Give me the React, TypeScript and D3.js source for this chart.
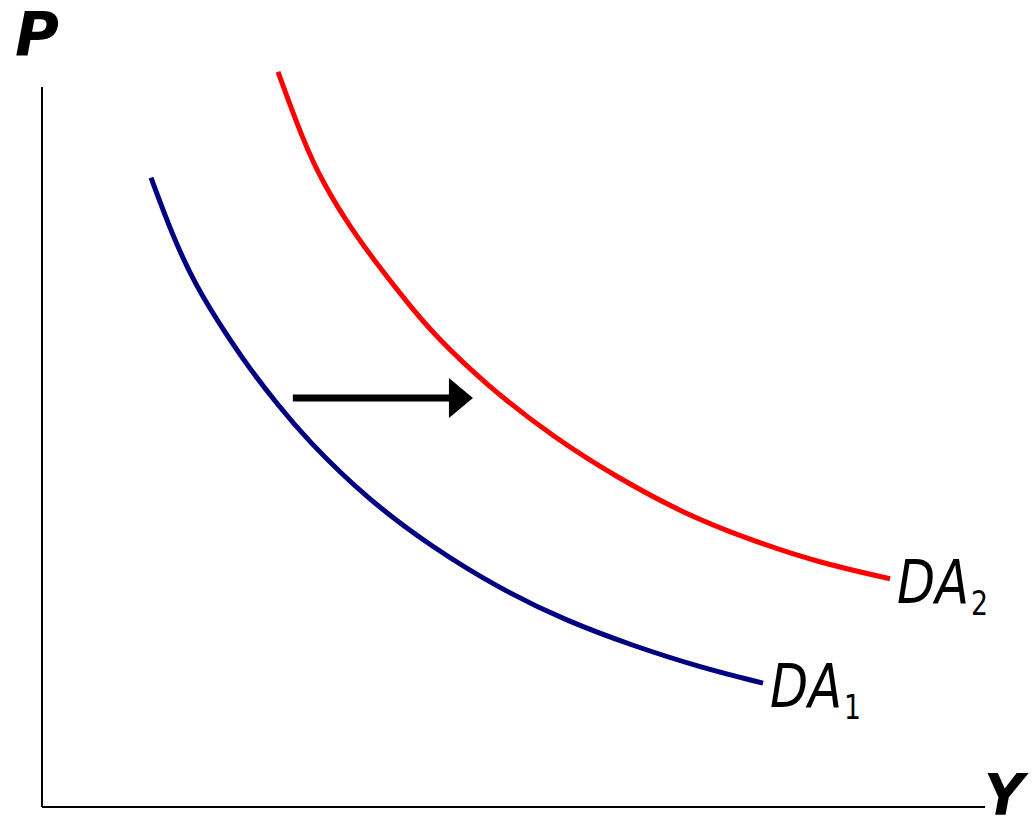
import React from "react";
import * as d3 from "d3";

// Data (abstract units: Y output on x-axis 0..10, P price level on y-axis 0..10)
const da1Y = [1.156, 1.389, 1.622, 1.919, 2.206, 2.492, 2.81, 3.446, 4.146, 4.857, 5.567, 6.267, 6.978, 7.646];
const da1P = [8.74, 7.92, 7.26, 6.63, 6.08, 5.6, 5.1, 4.28, 3.6, 3.03, 2.58, 2.24, 1.94, 1.72];
const da2Y = [2.503, 2.768, 2.98, 3.298, 3.584, 3.871, 4.157, 4.719, 5.461, 6.098, 6.797, 7.508, 8.218, 8.993];
const da2P = [10.21, 9.26, 8.66, 7.99, 7.49, 7.01, 6.56, 5.85, 5.1, 4.58, 4.08, 3.71, 3.4, 3.17];
const arrowY = [2.66, 4.57];
const arrowP = 5.68;
const curveLabels = ["DA", "DA"];
const curveSubs = ["1", "2"];
const axisLabels = ["P", "Y"];

const W = 1035;
const H = 819;

export default function App() {
  const x = d3.scaleLinear().domain([0, 10]).range([42, 985]);
  const y = d3.scaleLinear().domain([0, 10]).range([807, 87]);
  const line = d3
    .line<[number, number]>()
    .x((d) => x(d[0]))
    .y((d) => y(d[1]))
    .curve(d3.curveBasis);

  const blue: [number, number][] = da1Y.map((v, i) => [v, da1P[i]]);
  const red: [number, number][] = da2Y.map((v, i) => [v, da2P[i]]);
  const b1 = blue[blue.length - 1];
  const r1 = red[red.length - 1];

  const ax0 = x(arrowY[0]);
  const ax1 = x(arrowY[1]);
  const ay = y(arrowP);
  const headLen = 24;
  const headHalf = 20;

  const labelFont = "'DejaVu Sans', Verdana, sans-serif";

  const renderLabel = (pt: [number, number], i: number) => {
    const lx = x(pt[0]) + 7;
    const ly = y(pt[1]) + 24;
    return (
      <g key={i}>
        <text
          x={lx}
          y={ly}
          fontFamily={labelFont}
          fontStyle="italic"
          fontSize={60}
          textLength={72}
          lengthAdjust="spacingAndGlyphs"
          fill="#000"
        >
          {curveLabels[i]}
        </text>
        <text
          x={lx + 74}
          y={ly + 12}
          fontFamily={labelFont}
          fontSize={34}
          textLength={17}
          lengthAdjust="spacingAndGlyphs"
          fill="#000"
        >
          {curveSubs[i]}
        </text>
      </g>
    );
  };

  return (
    <svg
      width={W}
      height={H}
      style={{ position: "absolute", left: 0, top: 0, background: "#fff" }}
    >
      {/* axes */}
      <line x1={x(0)} y1={y(10)} x2={x(0)} y2={y(0)} stroke="#000" strokeWidth={2} />
      <line x1={x(0)} y1={y(0)} x2={x(10)} y2={y(0)} stroke="#000" strokeWidth={2} />
      <text
        x={15}
        y={55}
        fontFamily={labelFont}
        fontWeight="bold"
        fontStyle="italic"
        fontSize={60}
        fill="#000"
      >
        {axisLabels[0]}
      </text>
      <text
        x={984}
        y={815}
        fontFamily={labelFont}
        fontWeight="bold"
        fontStyle="italic"
        fontSize={57}
        textLength={40}
        lengthAdjust="spacingAndGlyphs"
        fill="#000"
      >
        {axisLabels[1]}
      </text>

      {/* curves */}
      <path d={line(blue) || ""} fill="none" stroke="#000080" strokeWidth={5} />
      <path d={line(red) || ""} fill="none" stroke="#ff0000" strokeWidth={5} />

      {/* shift arrow */}
      <line x1={ax0} y1={ay} x2={ax1 - headLen + 1} y2={ay} stroke="#000" strokeWidth={7} />
      <path
        d={`M${ax1},${ay} L${ax1 - headLen},${ay - headHalf} L${ax1 - headLen},${ay + headHalf} Z`}
        fill="#000"
      />

      {renderLabel(b1, 0)}
      {renderLabel(r1, 1)}
    </svg>
  );
}
